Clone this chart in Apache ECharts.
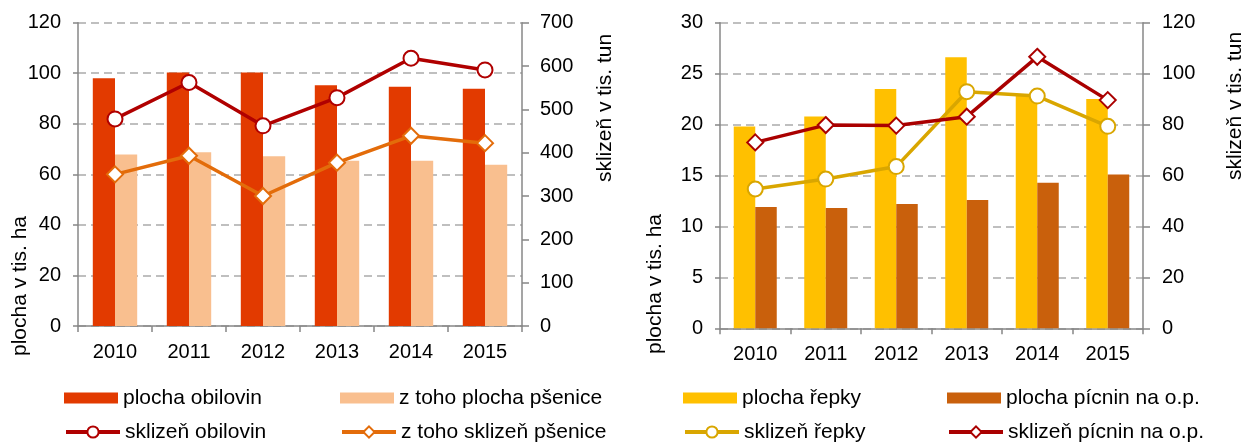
<!DOCTYPE html>
<html>
<head>
<meta charset="utf-8">
<script src="https://cdn.jsdelivr.net/npm/echarts@6/dist/echarts.min.js"></script>
<style>html,body{margin:0;padding:0;background:#fff}#c{width:1245px;height:448px}</style>
</head>
<body>
<div id="c"></div>
<script>
const years = ['2010','2011','2012','2013','2014','2015'];
const plochaObilovin = [98.0, 100.3, 100.3, 95.3, 94.7, 93.9];
const plochaPsenice = [67.9, 68.7, 67.2, 65.4, 65.4, 63.8];
const sklizenObilovin = [478, 562, 462, 527, 618, 591];
const sklizenPsenice = [350, 393, 300, 377, 439, 422];
const plochaRepky = [19.8, 20.8, 23.5, 26.6, 23.0, 22.5];
const plochaPicnin = [11.9, 11.8, 12.2, 12.6, 14.3, 15.1];
const sklizenRepky = [54.7, 58.6, 63.5, 92.9, 91.2, 79.3];
const sklizenPicnin = [73.0, 79.8, 79.6, 83.1, 106.6, 89.6];

const FONT = '"Liberation Sans", Arial, sans-serif';
const AX = '#878787';
const axisLine = {show:true, lineStyle:{color:AX, width:1.5}};
const tick = (len)=>({show:true, length:len, lineStyle:{color:AX, width:1.5}});
const lbl = (m)=>({fontSize:20, color:'#000', fontFamily:FONT, margin:m});
const grid = {show:true, lineStyle:{color:'#ABABAB', width:1.5, type:[8,5]}};

function xAx(g){
  return {type:'category', gridIndex:g, data:years, axisLine, axisTick:tick(6),
          axisLabel:lbl(16), splitLine:{show:false}};
}
function yAx(g, pos, max, step, split, m, tl){
  return {type:'value', gridIndex:g, position:pos, min:0, max:max, interval:step,
          axisLine, axisTick:tick(tl), axisLabel:lbl(m), splitLine: split?grid:{show:false}};
}
function bar(name, data, color, xi, yi, gap){
  return {name, type:'bar', xAxisIndex:xi, yAxisIndex:yi, data, barGap:'0%',
          barCategoryGap:gap, itemStyle:{color}, z:2};
}
function line(name, data, color, sym, size, xi, yi){
  return {name, type:'line', xAxisIndex:xi, yAxisIndex:yi, data, symbol:sym, symbolSize:size,
          showSymbol:true, lineStyle:{color, width:3.5}, itemStyle:{color:'#fff', borderColor:color, borderWidth:2},
          z:5};
}
function leg(left, top, item, ih){
  return {left, top, orient:'horizontal', itemWidth:54, itemHeight:ih, padding:0,
          lineStyle:{width:4}, itemStyle:{borderWidth:2},
          textStyle:{fontSize:21, lineHeight:22, color:'#000', fontFamily:FONT},
          data: [item]};
}
function vtitle(x, y, text){
  return {type:'text', x, y, rotation:Math.PI/2,
          style:{text, font:'21px ' + FONT, fill:'#000', textAlign:'center', textVerticalAlign:'middle'}};
}

const C1 = '#E23A00', C2 = '#F9BF8F', C3 = '#B00000', C4 = '#E36C0A';
const C5 = '#FFC000', C6 = '#C9600C', C7 = '#D9A600', C8 = '#AA0000';

const R1 = 387, R2 = 421;
const chart = echarts.init(document.getElementById('c'), null, {renderer:'canvas'});
chart.setOption({
  animation:false,
  backgroundColor:'#fff',
  grid:[
    {left:78, right:723, top:22.7, bottom:122, containLabel:false},
    {left:720, right:102, top:22.7, bottom:119.7, containLabel:false}
  ],
  xAxis:[xAx(0), xAx(1)],
  yAxis:[
    yAx(0,'left',120,20,true,17,5),
    yAx(0,'right',700,100,false,18,7),
    yAx(1,'left',30,5,true,17,5),
    yAx(1,'right',120,20,false,19,7)
  ],
  legend:[
    leg(64, R1, {name:'plocha obilovin', icon:'rect'}, 11),
    leg(64, R2, {name:'sklizeň obilovin'}, 14),
    leg(340, R1, {name:'z toho plocha pšenice', icon:'rect'}, 11),
    leg(340, R2, {name:'z toho sklizeň pšenice'}, 14),
    leg(683, R1, {name:'plocha řepky', icon:'rect'}, 11),
    leg(683, R2, {name:'sklizeň řepky'}, 14),
    leg(947, R1, {name:'plocha pícnin na o.p.', icon:'rect'}, 11),
    leg(947, R2, {name:'sklizeň pícnin na o.p.'}, 14)
  ],
  graphic:[
    vtitle(20, 286, 'plocha v tis. ha'),
    vtitle(605, 108, 'sklizeň v tis. tun'),
    vtitle(655, 284, 'plocha v tis. ha'),
    vtitle(1235, 106, 'sklizeň v tis. tun')
  ],
  series:[
    bar('plocha obilovin', plochaObilovin, C1, 0, 0, '40%'),
    bar('z toho plocha pšenice', plochaPsenice, C2, 0, 0, '40%'),
    line('sklizeň obilovin', sklizenObilovin, C3, 'circle', 15, 0, 1),
    line('z toho sklizeň pšenice', sklizenPsenice, C4, 'diamond', 16, 0, 1),
    bar('plocha řepky', plochaRepky, C5, 1, 2, '39%'),
    bar('plocha pícnin na o.p.', plochaPicnin, C6, 1, 2, '39%'),
    line('sklizeň řepky', sklizenRepky, C7, 'circle', 15, 1, 3),
    line('sklizeň pícnin na o.p.', sklizenPicnin, C8, 'diamond', 16, 1, 3)
  ]
});
</script>
</body>
</html>
